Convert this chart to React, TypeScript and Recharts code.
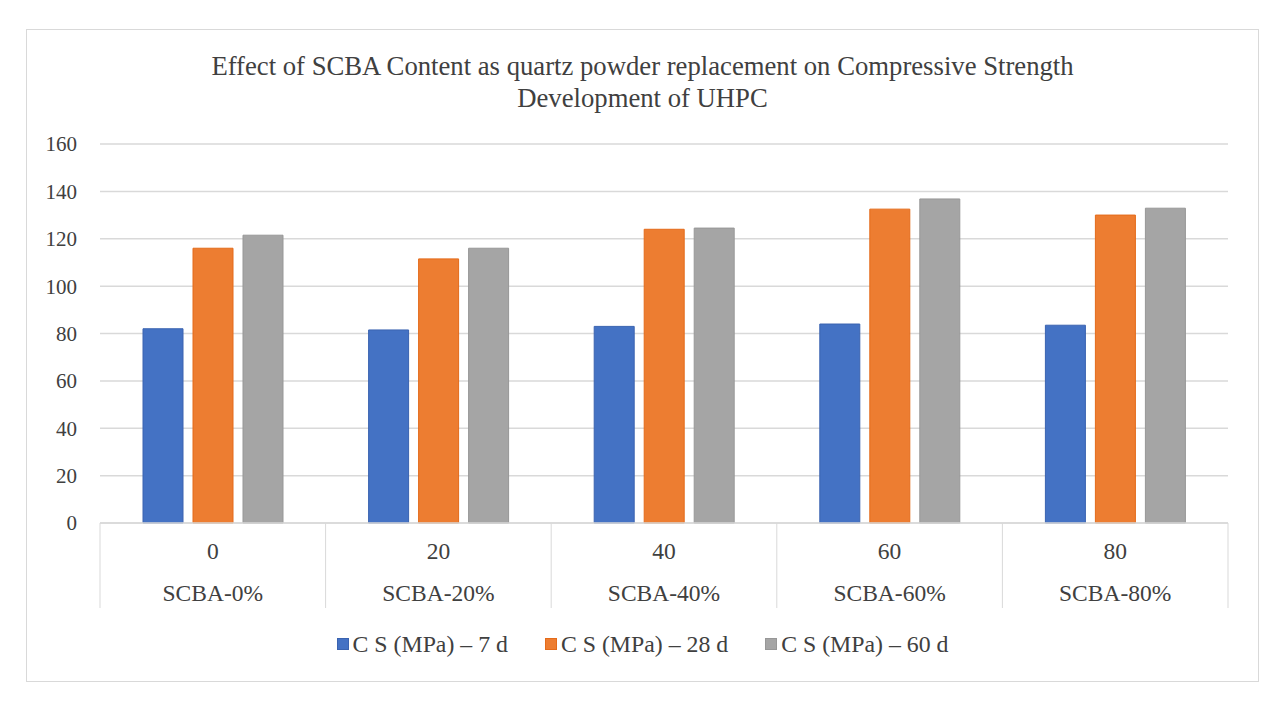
import React from "react";
import { BarChart, Bar, XAxis, YAxis, CartesianGrid } from "recharts";

const levels = ["0", "20", "40", "60", "80"];
const mixes = ["SCBA-0%", "SCBA-20%", "SCBA-40%", "SCBA-60%", "SCBA-80%"];
const cs7 = [82, 81.5, 83, 84, 83.5];
const cs28 = [116, 111.5, 124, 132.5, 130];
const cs60 = [121.5, 116, 124.5, 136.8, 132.9];
const yTicks = [0, 20, 40, 60, 80, 100, 120, 140, 160];

const series = [
  { key: "cs7", name: "C S (MPa) – 7 d", fill: "#4472C4", stroke: "#3A63B0" },
  { key: "cs28", name: "C S (MPa) – 28 d", fill: "#ED7D31", stroke: "#E46B1A" },
  { key: "cs60", name: "C S (MPa) – 60 d", fill: "#A5A5A5", stroke: "#979797" },
];

const data = mixes.map((m, i) => ({
  mix: m,
  cs7: cs7[i],
  cs28: cs28[i],
  cs60: cs60[i],
}));

const FONT = '"Liberation Serif", "Times New Roman", serif';
const TEXT = "#404040";
const GRID = "#D9D9D9";

const CategoryTick = (props: any) => {
  const { x, y, payload, index } = props;
  const half = payload.offset || 0;
  return (
    <g>
      <line x1={x - half} y1={y} x2={x - half} y2={y + 85} stroke={GRID} />
      {index === mixes.length - 1 && (
        <line x1={x + half} y1={y} x2={x + half} y2={y + 85} stroke={GRID} />
      )}
      <text x={x} y={y + 28} textAnchor="middle" dominantBaseline="central"
        fontFamily={FONT} fontSize={23.5} fill={TEXT}>
        {levels[index]}
      </text>
      <text x={x} y={y + 70} textAnchor="middle" dominantBaseline="central"
        fontFamily={FONT} fontSize={23.5} fill={TEXT}>
        {payload.value}
      </text>
    </g>
  );
};

export default function App() {
  return (
    <div
      style={{
        position: "relative",
        width: 1231,
        height: 651,
        border: `1px solid ${GRID}`,
        marginLeft: 18,
        marginTop: 21,
        background: "#fff",
      }}
    >
      <div
        style={{
          position: "absolute",
          top: 20,
          left: 0,
          width: "100%",
          textAlign: "center",
          fontFamily: FONT,
          fontSize: 26.7,
          lineHeight: "32px",
          color: TEXT,
        }}
      >
        Effect of SCBA Content as quartz powder replacement on Compressive Strength
        <br />
        Development of UHPC
      </div>
      <BarChart
        width={1231}
        height={651}
        data={data}
        margin={{ top: 114, right: 30, bottom: 72, left: 0 }}
        barSize={40}
        barGap={10}
      >
        <CartesianGrid vertical={false} stroke={GRID} strokeWidth={1.5} />
        <XAxis
          dataKey="mix"
          height={86}
          tickLine={false}
          tickSize={0}
          tickMargin={0}
          axisLine={{ stroke: GRID, strokeWidth: 1.5 }}
          interval={0}
          tick={<CategoryTick />}
        />
        <YAxis
          width={73}
          domain={[0, 160]}
          ticks={yTicks}
          axisLine={false}
          tickLine={false}
          tickSize={0}
          tickMargin={23}
          tick={{ fontFamily: FONT, fontSize: 21, fill: TEXT }}
        />
        {series.map((s) => (
          <Bar
            key={s.key}
            dataKey={s.key}
            name={s.name}
            fill={s.fill}
            stroke={s.stroke}
            strokeWidth={1}
            isAnimationActive={false}
          />
        ))}
      </BarChart>
      <div
        style={{
          position: "absolute",
          top: 598,
          left: 0,
          width: "100%",
          display: "flex",
          justifyContent: "center",
          gap: 37,
          fontFamily: FONT,
          fontSize: 23.8,
          lineHeight: "32px",
          color: TEXT,
        }}
      >
        {series.map((s) => (
          <div key={s.key} style={{ display: "flex", alignItems: "center" }}>
            <span
              style={{
                display: "inline-block",
                width: 10,
                height: 10,
                background: s.fill,
                border: `1px solid ${s.stroke}`,
                marginRight: 4,
              }}
            />
            <span>{s.name}</span>
          </div>
        ))}
      </div>
    </div>
  );
}
